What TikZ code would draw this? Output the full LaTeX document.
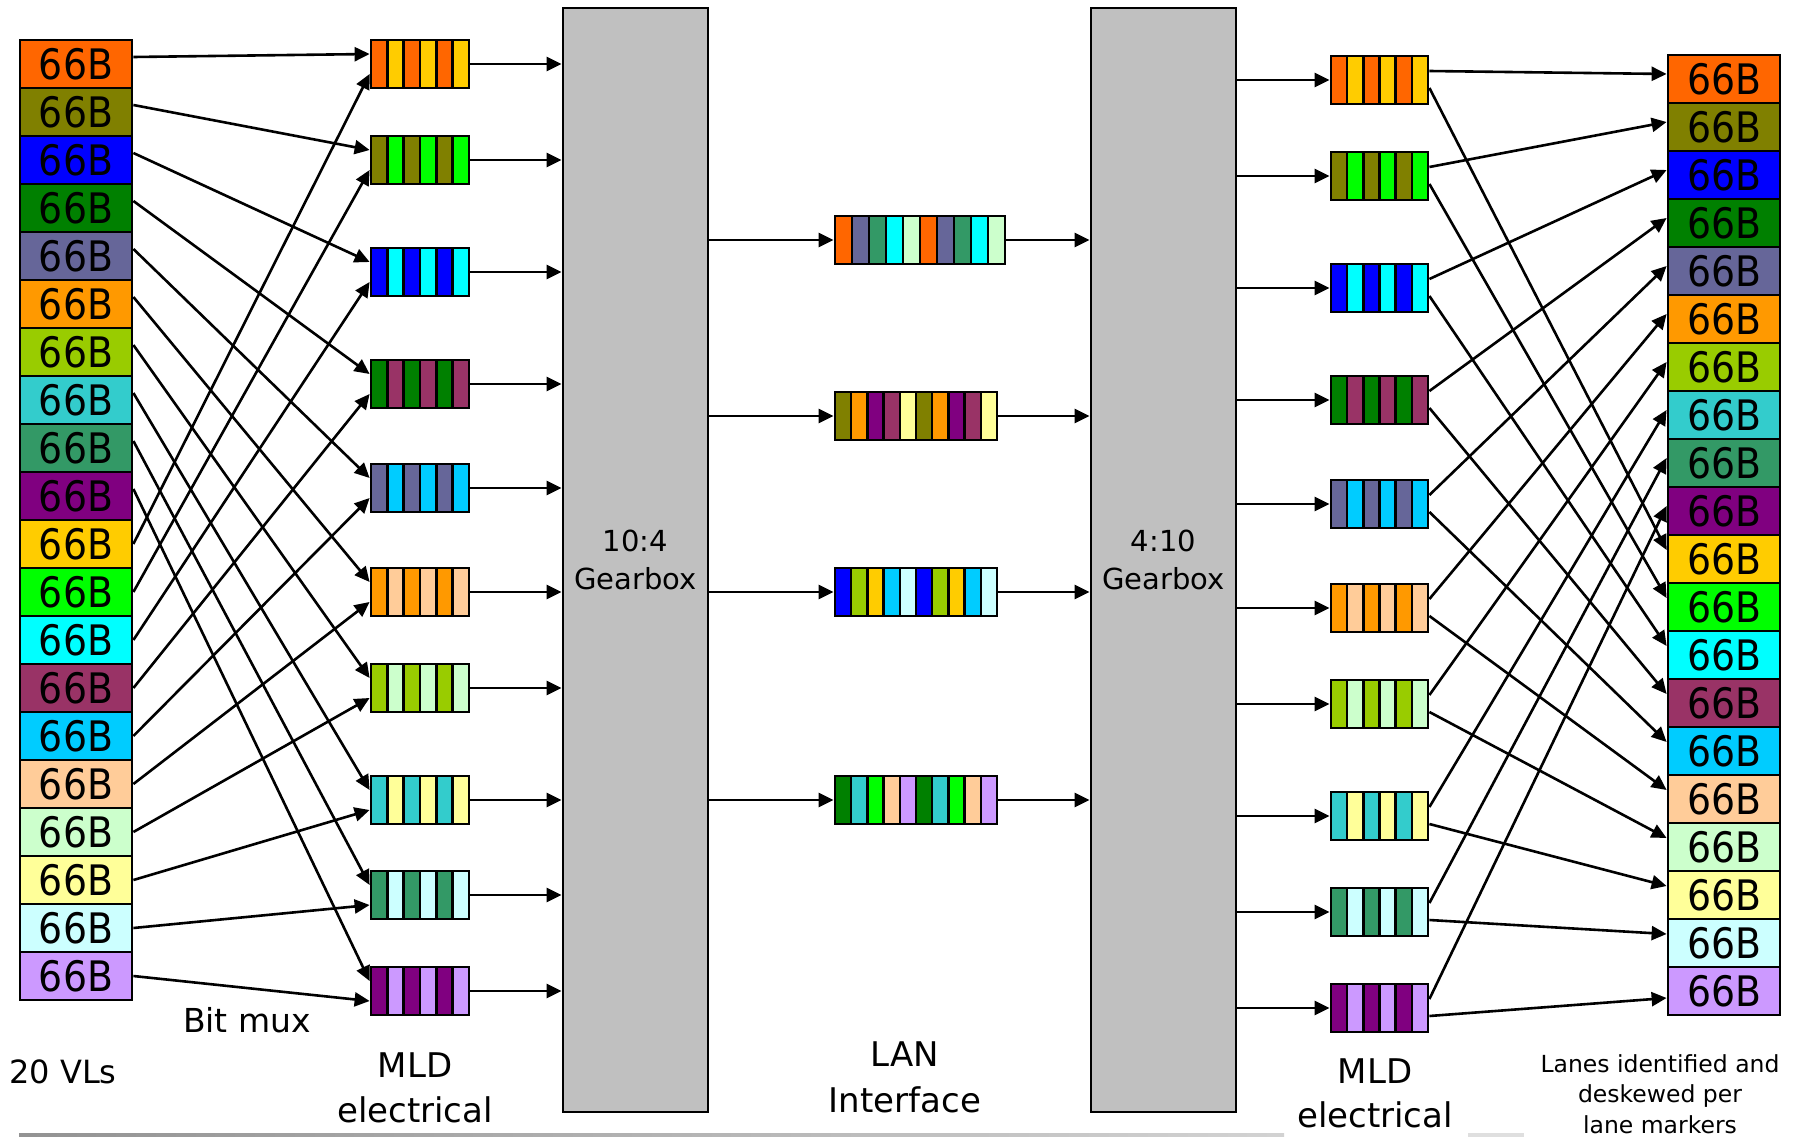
\documentclass[tikz,border=0pt]{standalone}
\usepackage{fontspec}
\setmainfont{DejaVu Sans}
\newfontfamily\vlfont{DejaVu Sans}[FakeStretch=0.9]
\usetikzlibrary{arrows.meta,calc}
\definecolor{v1}{HTML}{FF6600}
\definecolor{v2}{HTML}{808000}
\definecolor{v3}{HTML}{0000FF}
\definecolor{v4}{HTML}{008000}
\definecolor{v5}{HTML}{666699}
\definecolor{v6}{HTML}{FF9900}
\definecolor{v7}{HTML}{99CC00}
\definecolor{v8}{HTML}{33CCCC}
\definecolor{v9}{HTML}{339966}
\definecolor{v10}{HTML}{800080}
\definecolor{v11}{HTML}{FFCC00}
\definecolor{v12}{HTML}{00FF00}
\definecolor{v13}{HTML}{00FFFF}
\definecolor{v14}{HTML}{993366}
\definecolor{v15}{HTML}{00CCFF}
\definecolor{v16}{HTML}{FFCC99}
\definecolor{v17}{HTML}{CCFFCC}
\definecolor{v18}{HTML}{FFFF99}
\definecolor{v19}{HTML}{CCFFFF}
\definecolor{v20}{HTML}{CC99FF}
\definecolor{gearg}{HTML}{C0C0C0}
\tikzset{
  vl/.style={draw=black, line width=2.8pt, minimum width=112pt, minimum height=48pt, inner sep=0pt, font=\vlfont\fontsize{42}{42}\selectfont},
  arr/.style={line width=2.6pt, -{Triangle[length=15pt,width=14pt]}},
  gear/.style={draw=black, fill=gearg, line width=2.8pt, minimum width=145pt, minimum height=1104pt, inner sep=0pt},
  lbl/.style={align=center, inner sep=0pt},
  sbox/.style={draw=black, line width=2.8pt, inner sep=0pt, minimum height=48pt}
}
% name, x, y, stripe width, number, colours
\newcommand{\stripebox}[6]{%
  \foreach \sc [count=\sn from 0] in {#6}{%
    \filldraw[fill=\sc, draw=black, line width=2.4pt]
      ($(#2,#3)+({-#4*#5/2+\sn*#4},-24)$) rectangle ++(#4,48);
  }
  \node[sbox, minimum width={#4*#5}] (#1) at (#2,#3) {};
}
\begin{document}
\begin{tikzpicture}[x=1pt,y=-1pt]
\useasboundingbox (0,0) rectangle (1801,1137);
\fill[white] (0,0) rectangle (1801,1137);

% bottom rule
\shade[left color=gray!85, right color=gray!35] (19,1133) rectangle (1284,1137);
\fill[gray!25] (1468,1133) rectangle (1524,1137);

% gearboxes
\node[gear] (G1) at (635.5,560) {};
\node[gear] (G2) at (1163.5,560) {};
\node[lbl, font=\fontsize{29}{38}\selectfont] (g1t) at (G1) {10:4\\Gearbox};
\node[lbl, font=\fontsize{29}{38}\selectfont] (g2t) at (G2) {4:10\\Gearbox};

% virtual lanes
\foreach \k in {1,...,20}{
  \node[vl, fill=v\k] (L\k) at (76,{16+48*\k}) {66B};
  \node[vl, fill=v\k] (R\k) at (1724,{31+48*\k}) {66B};
}

% MLD electrical lanes
\foreach \i/\y in {1/64,2/160,3/272,4/384,5/488,6/592,7/688,8/800,9/895,10/991}{
  \pgfmathtruncatemacro\j{\i+10}
  \stripebox{M\i}{420}{\y}{16.33}{6}{v\i,v\j,v\i,v\j,v\i,v\j}
}
\foreach \i/\y in {1/80,2/176,3/288,4/400,5/504,6/608,7/704,8/816,9/912,10/1008}{
  \pgfmathtruncatemacro\j{\i+10}
  \stripebox{RM\i}{1379.5}{\y}{16.17}{6}{v\i,v\j,v\i,v\j,v\i,v\j}
}

% LAN interface
\stripebox{N1}{920}{240}{17}{10}{v1,v5,v9,v13,v17,v1,v5,v9,v13,v17}
\stripebox{N2}{916}{416}{16.2}{10}{v2,v6,v10,v14,v18,v2,v6,v10,v14,v18}
\stripebox{N3}{916}{592}{16.2}{10}{v3,v7,v11,v15,v19,v3,v7,v11,v15,v19}
\stripebox{N4}{916}{800}{16.2}{10}{v4,v8,v12,v16,v20,v4,v8,v12,v16,v20}
\foreach \n in {1,...,4}{
  \draw[arr] (G1.east |- N\n.west) -- (N\n.west);
  \draw[arr] (N\n.east) -- (N\n.east -| G2.west);
}

% connectors
\foreach \i in {1,...,10}{
  \pgfmathtruncatemacro\j{\i+10}
  \pgfmathsetmacro\roff{ifthenelse(\i==10,7,-9)}
  \draw[arr] ($(L\i.east)+(0,-7)$) -- ($(M\i.west)+(0,-10)$);
  \draw[arr] (L\j.east) -- ($(M\i.west)+(0,10)$);
  \draw[arr] (M\i.east) -- (M\i.east -| G1.west);
  \draw[arr] (G2.east |- RM\i.west) -- (RM\i.west);
  \draw[arr] ($(RM\i.east)+(0,-9)$) -- ($(R\i.west)+(0,-5)$);
  \draw[arr] ($(RM\i.east)+(0,8)$) -- ($(R\j.west)+(0,\roff)$);
}

% labels
\node[lbl, font=\fontsize{33}{33}\selectfont] (bitmux) at (247,1020) {Bit mux};
\node[lbl, font=\fontsize{32}{32}\selectfont] (vls) at (63,1072) {20 VLs};
\node[lbl, font=\fontsize{34}{45}\selectfont] (mldL) at (415,1088) {MLD\\electrical};
\node[lbl, font=\fontsize{34}{46}\selectfont] (lan) at (905,1077) {LAN\\Interface};
\node[lbl, font=\fontsize{34}{44}\selectfont] (mldR) at (1375,1093) {MLD\\electrical};
\node[lbl, font=\fontsize{23.5}{30.5}\selectfont] (lanes) at (1660,1094) {Lanes identified and\\deskewed per\\lane markers};
\end{tikzpicture}
\end{document}
